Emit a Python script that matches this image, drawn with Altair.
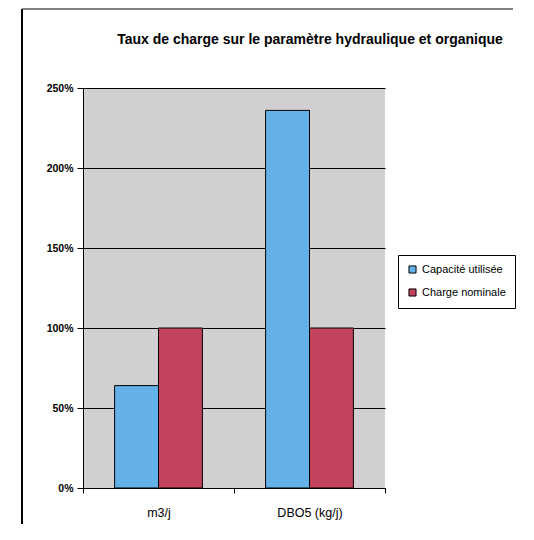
import altair as alt
import pandas as pd

categories = ["m3/j", "DBO5 (kg/j)"]
series = ["Capacité utilisée", "Charge nominale"]
capacite = [0.64, 2.36]
nominale = [1.00, 1.00]
y_ticks = [0, 0.5, 1.0, 1.5, 2.0, 2.5]
title_text = "Taux de charge sur le paramètre hydraulique et organique"

rows = []
for i, c in enumerate(categories):
    rows.append({"cat": c, "serie": series[0], "val": capacite[i]})
    rows.append({"cat": c, "serie": series[1], "val": nominale[i]})
df = pd.DataFrame(rows)
one = pd.DataFrame({"t": [title_text]})

FONT = "Liberation Sans Narrow, Liberation Sans, Arial"

bars = alt.Chart(df).mark_bar(stroke="black", strokeWidth=1).encode(
    x=alt.X("cat:N", sort=categories, title=None,
            scale=alt.Scale(paddingInner=0, paddingOuter=0),
            axis=alt.Axis(labelAngle=0, tickBand="extent", domainColor="black",
                          tickColor="black", tickSize=5, labelPadding=13,
                          labelFontSize=12.5, labelColor="black", labelFont=FONT, grid=False)),
    xOffset=alt.XOffset("serie:N", sort=series,
                        scale=alt.Scale(paddingOuter=0.72, paddingInner=0)),
    y=alt.Y("val:Q", title=None,
            scale=alt.Scale(domain=[0, 2.5], nice=False),
            axis=alt.Axis(values=y_ticks, format=".0%", grid=True, gridColor="black",
                          gridWidth=1, gridOpacity=1, domainColor="black", tickColor="black",
                          tickSize=6, labelPadding=4, labelFontSize=10.5, labelFontWeight="bold",
                          labelColor="black", labelFont=FONT)),
    color=alt.Color("serie:N", sort=series,
                    scale=alt.Scale(domain=series, range=["#63b1e8", "#c2435e"]),
                    legend=alt.Legend(title=None, orient="none", legendX=315, legendY=167,
                                      fillColor="white", strokeColor="black", padding=9,
                                      symbolType="square", symbolSize=50,
                                      symbolStrokeColor="black", symbolStrokeWidth=1,
                                      symbolOpacity=1, labelFontSize=11, labelFont=FONT,
                                      labelColor="black", rowPadding=10, labelOffset=4)),
)

title_mark = alt.Chart(one).mark_text(
    font="Liberation Sans", fontSize=14, fontWeight="bold", color="black",
    align="center", baseline="alphabetic"
).encode(x=alt.value(227), y=alt.value(-44), text="t:N")

frame_left = alt.Chart(one).mark_rule(color="black", strokeWidth=2).encode(
    x=alt.value(-61), y=alt.value(-79), y2=alt.value(436)
)
frame_top = alt.Chart(one).mark_rule(color="#555555", strokeWidth=1.5).encode(
    x=alt.value(-61), x2=alt.value(430), y=alt.value(-79)
)

chart = alt.layer(bars, title_mark, frame_left, frame_top).properties(
    width=302, height=400,
    background="white",
    autosize=alt.AutoSizeParams(type="none"),
    padding={"left": 75, "top": 80, "right": 141, "bottom": 44},
).configure_view(fill="#d1cfd2", stroke=None)

chart.save("out.html", embed_options={"renderer": "svg", "actions": False})
